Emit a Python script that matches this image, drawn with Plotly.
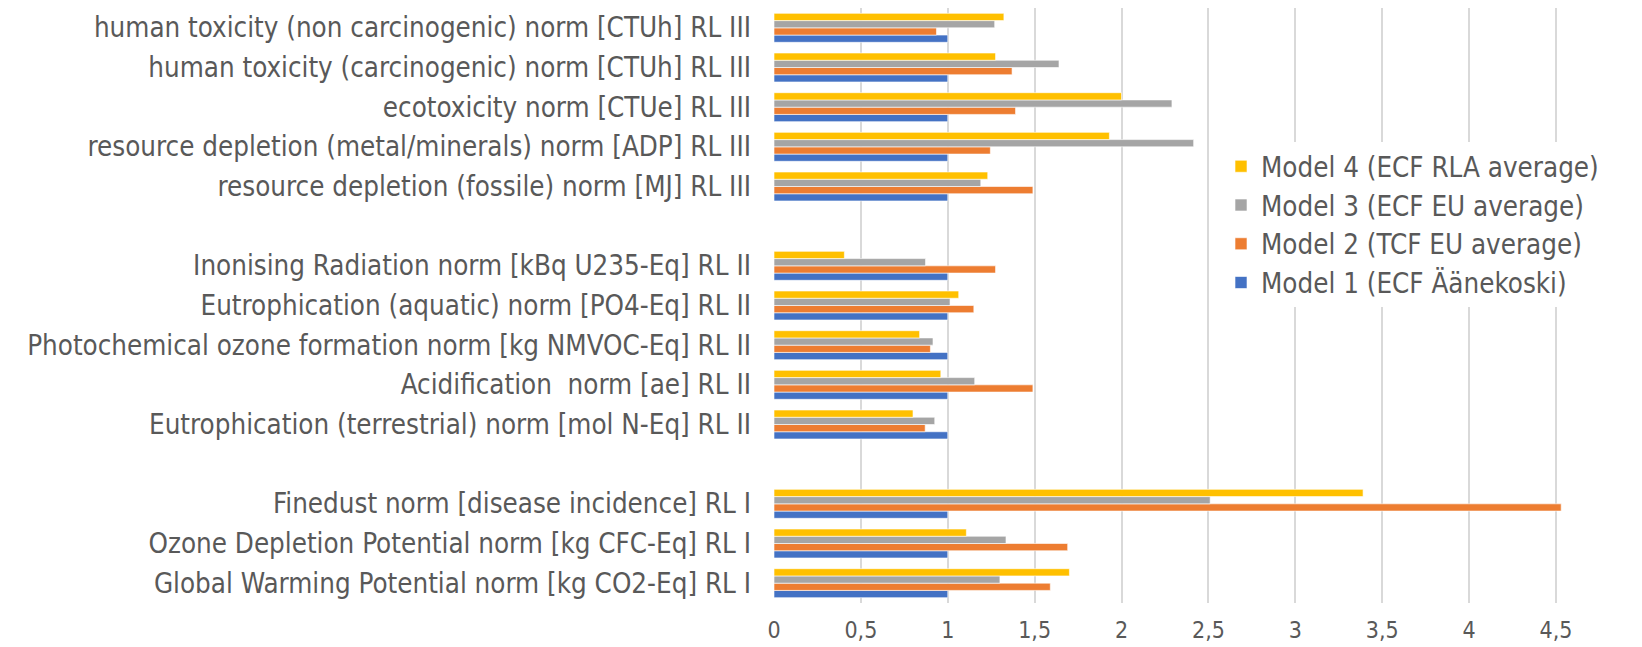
import plotly.graph_objects as go

categories = [
    "Global Warming Potential norm [kg CO2-Eq] RL I",
    "Ozone Depletion Potential norm [kg CFC-Eq] RL I",
    "Finedust norm [disease incidence] RL I",
    " ",
    "Eutrophication (terrestrial) norm [mol N-Eq] RL II",
    "Acidification\u00a0 norm [ae] RL II",
    "Photochemical ozone formation norm [kg NMVOC-Eq] RL II",
    "Eutrophication (aquatic) norm [PO4-Eq] RL II",
    "Inonising Radiation norm [kBq U235-Eq] RL II",
    "  ",
    "resource depletion (fossile) norm [MJ] RL III",
    "resource depletion (metal/minerals) norm [ADP] RL III",
    "ecotoxicity norm [CTUe] RL III",
    "human toxicity (carcinogenic) norm [CTUh] RL III",
    "human toxicity (non carcinogenic) norm [CTUh] RL III",
]

model1 = [1.0, 1.0, 1.0, None, 1.0, 1.0, 1.0, 1.0, 1.0, None, 1.0, 1.0, 1.0, 1.0, 1.0]
model2 = [1.59, 1.69, 4.53, None, 0.87, 1.49, 0.90, 1.15, 1.275, None, 1.49, 1.245, 1.39, 1.37, 0.935]
model3 = [1.30, 1.335, 2.51, None, 0.925, 1.155, 0.915, 1.013, 0.872, None, 1.19, 2.415, 2.29, 1.64, 1.27]
model4 = [1.70, 1.107, 3.39, None, 0.80, 0.96, 0.838, 1.063, 0.405, None, 1.23, 1.93, 2.0, 1.275, 1.323]

series_names = [
    "Model 1 (ECF Äänekoski)",
    "Model 2 (TCF EU average)",
    "Model 3 (ECF EU average)",
    "Model 4 (ECF RLA average)",
]
series_values = [model1, model2, model3, model4]
colors = ["#4472C4", "#ED7D31", "#A5A5A5", "#FFC000"]

FONT = "Liberation Sans Narrow, DejaVu Sans Condensed, Open Sans, sans-serif"
TXT = "#595959"

fig = go.Figure()
for name, vals, col in zip(series_names, series_values, colors):
    fig.add_trace(go.Bar(
        y=categories, x=vals, name=name, orientation="h",
        marker=dict(color=col, line=dict(color="white", width=0.6)),
    ))

fig.update_layout(
    width=1642, height=647,
    margin=dict(l=774, r=0, t=8, b=44, autoexpand=False),
    barmode="group", bargap=0.27, bargroupgap=0,
    plot_bgcolor="white", paper_bgcolor="white",
    separators=",.",
    font=dict(family=FONT, color=TXT, size=27.5),
    legend=dict(
        traceorder="reversed", x=0.515, y=0.775, xanchor="left", yanchor="top",
        bgcolor="white", font=dict(size=27.5, color=TXT), itemwidth=30,
        tracegroupgap=0,
    ),
    xaxis=dict(
        range=[0, 4.995], dtick=0.5, tick0=0, showgrid=True, gridcolor="#D9D9D9",
        gridwidth=1.5, zeroline=False, showline=False,
        tickfont=dict(size=23, color=TXT), ticklabelstandoff=11,
    ),
    yaxis=dict(
        type="category", categoryorder="array", categoryarray=categories,
        range=[-0.5, 14.5],
        showgrid=False, zeroline=False, showline=False,
        tickfont=dict(size=27.5, color=TXT), ticklabelstandoff=22,
    ),
)

fig.write_html("out.html")
